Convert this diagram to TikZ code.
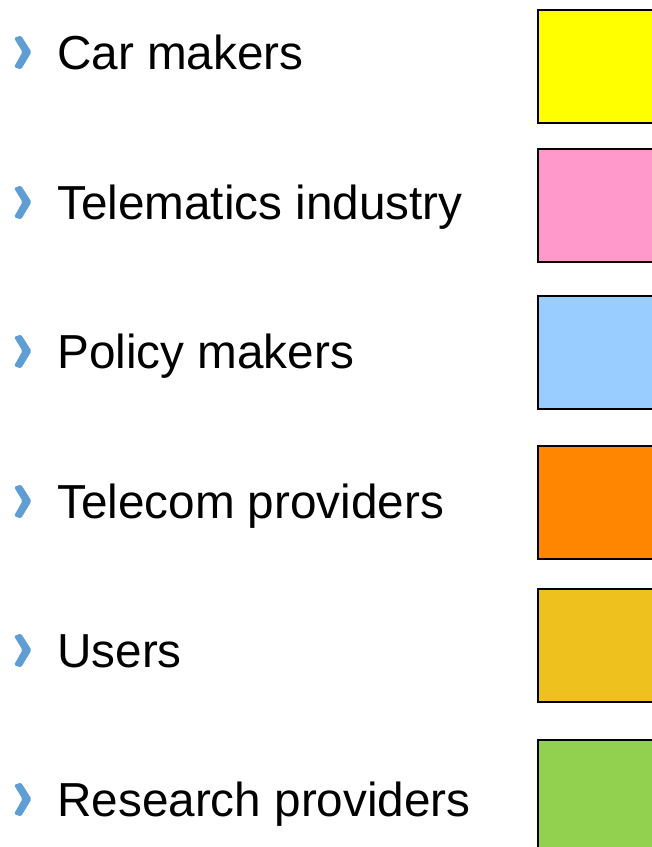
\documentclass[tikz,border=0pt]{standalone}
\usepackage{fontspec}
\setmainfont{Liberation Sans}
\definecolor{chevblue}{HTML}{5E9ED4}
\definecolor{cmyellow}{HTML}{FFFF00}
\definecolor{tipink}{HTML}{FF99CC}
\definecolor{pmblue}{HTML}{99CCFF}
\definecolor{tporange}{HTML}{FF8600}
\definecolor{ugold}{HTML}{EFC11F}
\definecolor{rpgreen}{HTML}{92D050}

\begin{document}
\begin{tikzpicture}[x=1pt,y=-1pt,
  lbl/.style={anchor=base west,inner sep=0pt,font=\fontsize{47.7}{56}\selectfont},
  swatch/.style={draw=black,line width=1.6pt,minimum width=150pt,minimum height=113pt,anchor=north west,inner sep=0pt},
  chev/.style={fill=chevblue,rounded corners=1.5pt}]
  \useasboundingbox (0,0) rectangle (652,847);
  % Left-hand side: the list of stakeholders
  \node[lbl] (CM) at (57,69)  {Car makers};
  \node[lbl] (TI) at (57,219) {Telematics industry};
  \node[lbl] (PM) at (57,368) {Policy makers};
  \node[lbl] (TP) at (57,518) {Telecom providers};
  \node[lbl] (U)  at (57,667) {Users};
  \node[lbl] (RP) at (57,816) {Research providers};
  % bullets
  \fill[chev] (14,38) -- (21,35.5) -- (31.5,52) -- (21,69.5) -- (14,67) -- (22.5,52) -- cycle;
  \fill[chev] (14,188) -- (21,185.5) -- (31.5,202) -- (21,219.5) -- (14,217) -- (22.5,202) -- cycle;
  \fill[chev] (14,337) -- (21,334.5) -- (31.5,351) -- (21,368.5) -- (14,366) -- (22.5,351) -- cycle;
  \fill[chev] (14,487) -- (21,484.5) -- (31.5,501) -- (21,518.5) -- (14,516) -- (22.5,501) -- cycle;
  \fill[chev] (14,636) -- (21,633.5) -- (31.5,650) -- (21,667.5) -- (14,665) -- (22.5,650) -- cycle;
  \fill[chev] (14,785) -- (21,782.5) -- (31.5,799) -- (21,816.5) -- (14,814) -- (22.5,799) -- cycle;
  % Right-hand side: colour swatches
  \node[swatch,fill=cmyellow] (CMb) at (537,9)   {};
  \node[swatch,fill=tipink]   (TIb) at (537,148) {};
  \node[swatch,fill=pmblue]   (PMb) at (537,295) {};
  \node[swatch,fill=tporange] (TPb) at (537,445) {};
  \node[swatch,fill=ugold]    (Ub)  at (537,588) {};
  \node[swatch,fill=rpgreen]  (RPb) at (537,739) {};
\end{tikzpicture}
\end{document}
